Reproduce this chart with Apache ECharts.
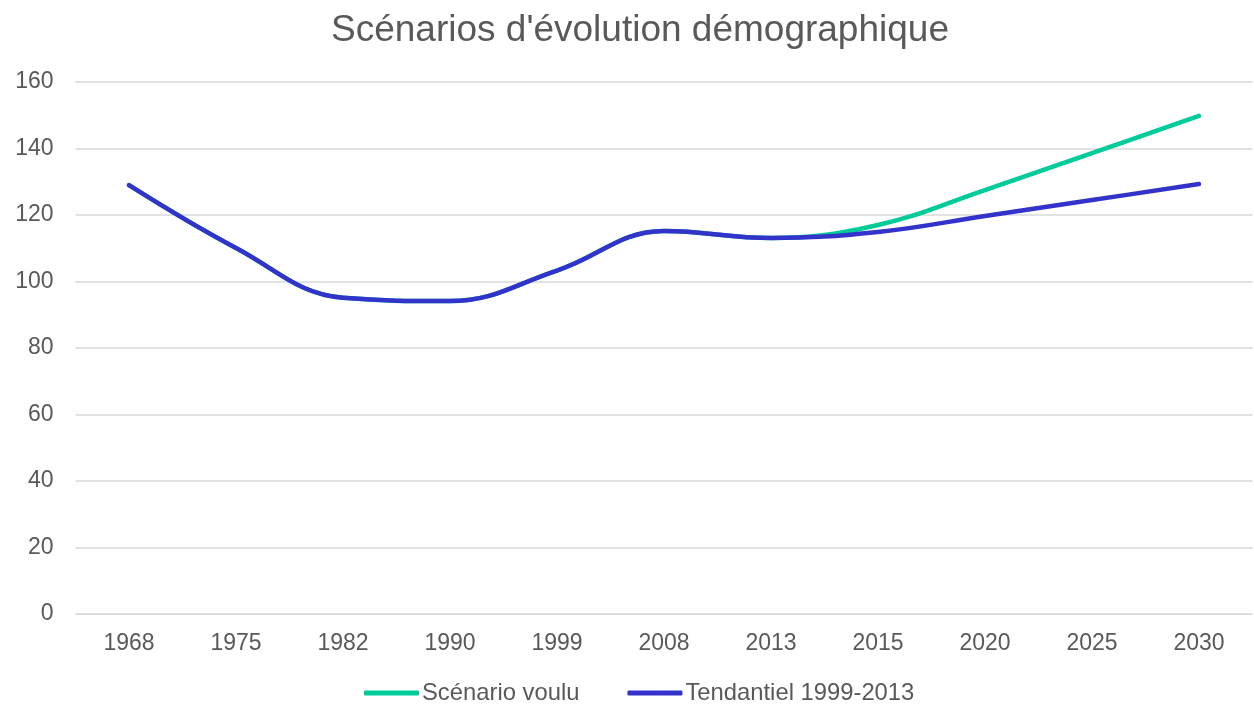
<!DOCTYPE html>
<html>
<head>
<meta charset="utf-8">
<script src="https://cdn.jsdelivr.net/npm/echarts@6/dist/echarts.min.js"></script>
<style>
  html, body { margin: 0; padding: 0; background: #fff; }
  #chart { width: 1254px; height: 706px; }
</style>
</head>
<body>
<div id="chart"></div>
<script>
const years = ['1968', '1975', '1982', '1990', '1999', '2008', '2013', '2015', '2020', '2025', '2030']
const scenarioVoulu = [129, 110.1, 95.1, 94.1, 103.3, 115.2, 113.1, 117, 127.5, 138.6, 149.8]
const tendantiel = [129, 110.1, 95.1, 94.1, 103.3, 115.2, 113.1, 114.9, 119.7, 124.5, 129.3]

const textColor = '#595959'
const font = 'Liberation Sans, Arial, sans-serif'

const chart = echarts.init(document.getElementById('chart'))
chart.setOption({
  animation: false,
  title: {
    text: "Scénarios d'évolution démographique",
    left: 331,
    top: 12,
    padding: 0,
    textStyle: { color: textColor, fontFamily: font, fontSize: 37, fontWeight: 'normal' }
  },
  legend: {
    bottom: 1,
    left: 364,
    padding: 0,
    itemWidth: 55,
    itemHeight: 5,
    itemGap: 48,
    icon: 'roundRect',
    textStyle: { color: textColor, fontFamily: font, fontSize: 23.8, padding: [0, 0, 0, -2] },
    data: ['Scénario voulu', 'Tendantiel 1999-2013']
  },
  grid: { left: 75.5, right: 1.5, top: 82, bottom: 92 },
  xAxis: {
    type: 'category',
    data: years,
    boundaryGap: true,
    axisLine: { lineStyle: { color: '#d9d9d9', width: 1 } },
    axisTick: { show: false },
    axisLabel: { color: textColor, fontFamily: font, fontSize: 23, margin: 18 }
  },
  yAxis: {
    type: 'value',
    min: 0,
    max: 160,
    interval: 20,
    axisLine: { show: false },
    axisTick: { show: false },
    splitLine: { lineStyle: { color: '#d9d9d9', width: 1.5 } },
    axisLabel: { color: textColor, fontFamily: font, fontSize: 23, margin: 22 }
  },
  series: [
    {
      name: 'Scénario voulu',
      type: 'line',
      data: scenarioVoulu,
      smooth: 0.4,
      showSymbol: false,
      symbol: 'none',
      itemStyle: { color: '#00CC99' },
      lineStyle: { color: '#00CC99', width: 4.5, cap: 'round' },
      z: 2
    },
    {
      name: 'Tendantiel 1999-2013',
      type: 'line',
      data: tendantiel,
      smooth: 0.4,
      showSymbol: false,
      symbol: 'none',
      itemStyle: { color: '#3333CC' },
      lineStyle: { color: '#3333CC', width: 4.5, cap: 'round' },
      z: 3
    }
  ]
})
</script>
</body>
</html>
